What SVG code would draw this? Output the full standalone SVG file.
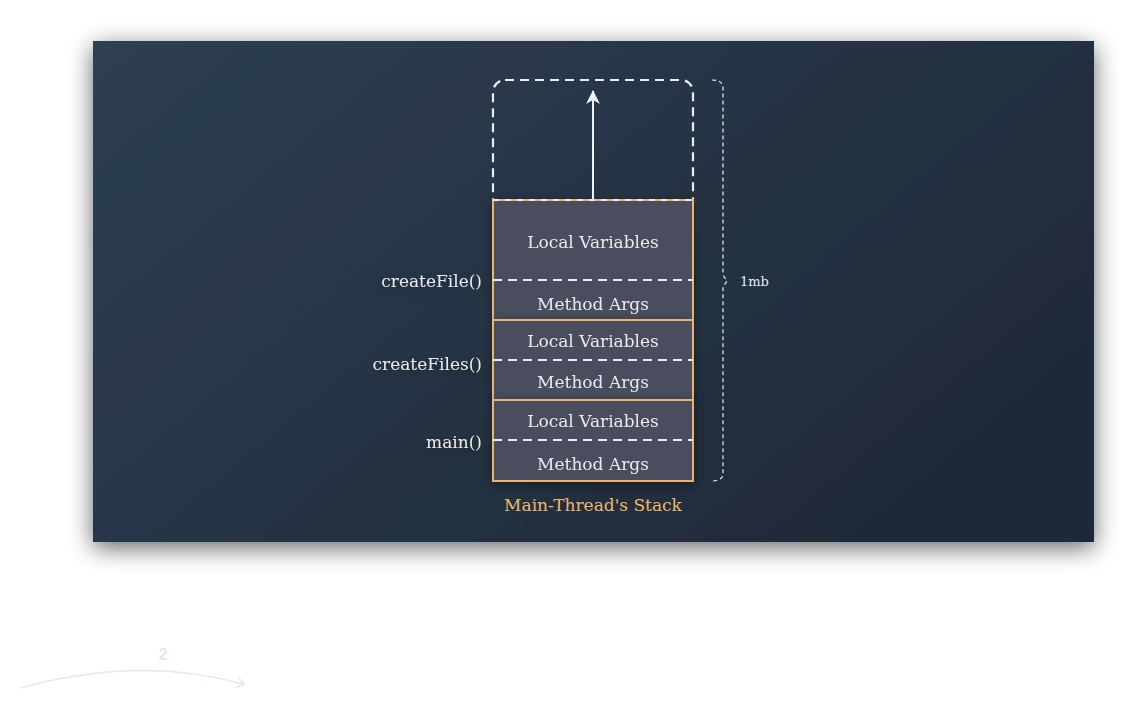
<svg xmlns="http://www.w3.org/2000/svg" width="1135" height="709" viewBox="0 0 1135 709">
<defs>
<linearGradient id="bg" x1="0" y1="0" x2="1" y2="0.6">
<stop offset="0" stop-color="#2e3f52"/>
<stop offset="1" stop-color="#1f2a38"/>
</linearGradient>
<filter id="sh" x="-10%" y="-15%" width="120%" height="135%">
<feGaussianBlur in="SourceAlpha" stdDeviation="12"/>
<feOffset dx="0" dy="6"/>
<feComponentTransfer><feFuncA type="linear" slope="0.6"/></feComponentTransfer>
<feMerge><feMergeNode/><feMergeNode in="SourceGraphic"/></feMerge>
</filter>
<filter id="sh2" x="-20%" y="-20%" width="140%" height="140%">
<feGaussianBlur in="SourceAlpha" stdDeviation="6"/>
<feOffset dx="0" dy="3"/>
<feComponentTransfer><feFuncA type="linear" slope="0.4"/></feComponentTransfer>
<feMerge><feMergeNode/><feMergeNode in="SourceGraphic"/></feMerge>
</filter>
<marker id="ah" markerWidth="16" markerHeight="16" refX="13" refY="8" orient="auto" markerUnits="userSpaceOnUse">
<path d="M0,1 L14,8 L0,15 L4,8 Z" fill="#eef1f5"/>
</marker>
<marker id="ah2" markerWidth="14" markerHeight="14" refX="7" refY="7" orient="auto" markerUnits="userSpaceOnUse">
<path d="M1,2 L8,7 L1,12" fill="none" stroke="#e3e9ef" stroke-width="1.6"/>
</marker>
</defs>
<style>
.lbl{font-family:"DejaVu Serif","Liberation Serif",serif;font-size:17px;fill:#e9eaec;text-anchor:middle}
.fn{font-family:"DejaVu Serif","Liberation Serif",serif;font-size:17px;fill:#e9eaec;text-anchor:end}
.frame{fill:#4a4e5d;stroke:#e8b56f;stroke-width:2}
.dash{stroke:#e9ecef;stroke-width:2;stroke-dasharray:9 6;fill:none}
</style>
<rect width="1135" height="709" fill="#ffffff"/>
<rect x="93" y="41" width="1001" height="501" fill="url(#bg)" filter="url(#sh)"/>

<g id="growth">
<rect class="dash" x="493" y="80" width="200" height="140" rx="12" style="stroke-width:2.2"/>
<rect x="486" y="201" width="214" height="30" fill="#283546"/>
</g>

<g id="frame-createFile" filter="url(#sh2)">
<rect class="frame" x="493" y="200" width="200" height="120"/>
<line class="dash" x1="493" y1="200" x2="693" y2="200" style="stroke-dasharray:6 6"/>
<line class="dash" x1="493" y1="280" x2="693" y2="280"/>
<text class="lbl" x="593" y="248">Local Variables</text>
<text class="lbl" x="593" y="310">Method Args</text>
<text class="fn" x="482" y="287">createFile()</text>
</g>
<g id="frame-createFiles" filter="url(#sh2)">
<rect class="frame" x="493" y="320" width="200" height="80"/>
<line class="dash" x1="493" y1="360" x2="693" y2="360"/>
<text class="lbl" x="593" y="347">Local Variables</text>
<text class="lbl" x="593" y="388">Method Args</text>
<text class="fn" x="482" y="370">createFiles()</text>
</g>
<g id="frame-main" filter="url(#sh2)">
<rect class="frame" x="493" y="400" width="200" height="81"/>
<line class="dash" x1="493" y1="440" x2="693" y2="440"/>
<text class="lbl" x="593" y="427">Local Variables</text>
<text class="lbl" x="593" y="470">Method Args</text>
<text class="fn" x="482" y="448">main()</text>
</g>

<g id="connectors">
<line x1="593" y1="200" x2="593" y2="91" stroke="#eef1f5" stroke-width="2" marker-end="url(#ah)"/>
<path d="M712,80 Q723,80 723,88 L723,275 L727,281 L723,287 L723,474 Q723,480 713,481" fill="none" stroke="#e9ecef" stroke-width="1.2" stroke-dasharray="4 3"/>
<path d="M20,688 Q140,655 243,684" fill="none" stroke="#e3e9ef" stroke-width="1.6" marker-end="url(#ah2)"/>
</g>

<text x="740" y="286" font-family="DejaVu Serif, serif" font-size="13" fill="#e9eaec">1mb</text>
<text x="593" y="511" font-family="DejaVu Serif, serif" font-size="17" fill="#f0b865" text-anchor="middle">Main-Thread's Stack</text>
<text x="163" y="660" font-family="Liberation Sans, sans-serif" font-size="16" font-weight="bold" fill="#e3e9ef" text-anchor="middle">2</text>
</svg>
